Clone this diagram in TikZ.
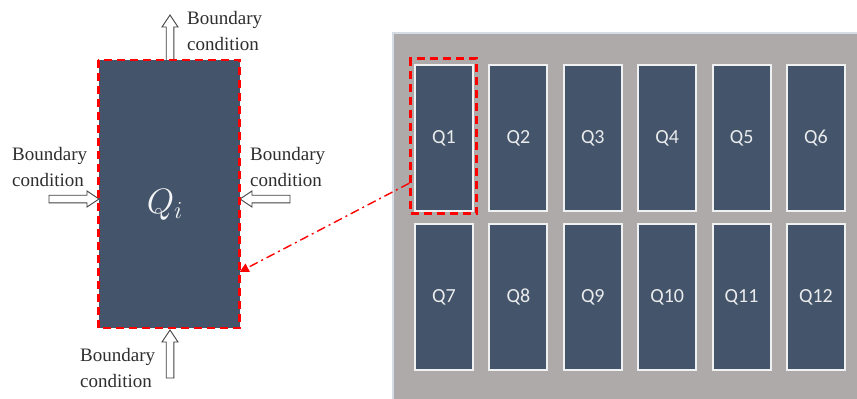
\documentclass[tikz,border=0pt]{standalone}
\usepackage{fontspec}
\setmainfont{Liberation Serif}
\newfontfamily\boxfont{Carlito}
\usetikzlibrary{arrows.meta,calc}
\definecolor{slate}{HTML}{44546A}
\definecolor{panelgrey}{HTML}{AEAAA9}
\definecolor{panelrim}{HTML}{D6DCE4}
\definecolor{labelgrey}{HTML}{2E2E2E}
\tikzset{
  cell/.style={draw=white!92!slate, line width=2pt, fill=slate,
    minimum width=58pt, minimum height=146pt, inner sep=0pt,
    text=white!88!slate, font=\boxfont\fontsize{20}{20}\selectfont},
  bclabel/.style={align=left, inner sep=0pt, text=labelgrey,
    font=\fontsize{19}{26}\selectfont, anchor=west},
  selbox/.style={draw=red, dash pattern=on 8pt off 5pt, line width=2.5pt},
  hollow/.style={draw=black!75, fill=white, line width=0.9pt, line join=miter},
  % hollow block arrow, tip at the origin, pointing along +x, #1 = length
  harrow/.pic={\path[hollow] (0,0) -- (-12,8) -- (-12,3.8) -- (-#1,3.8)
      -- (-#1,-3.8) -- (-12,-3.8) -- (-12,-8) -- cycle;},
}
\begin{document}
\begin{tikzpicture}[x=1pt, y=-1pt]
\useasboundingbox (0,0) rectangle (857,399);

% ---- right panel: grid of cells ----
\path[fill=panelgrey, draw=panelrim, line width=1.5pt] (393,33) rectangle (862,404);
\foreach \k in {1,...,6} {
  \pgfmathsetmacro{\cx}{444+74.4*(\k-1)}
  \node[cell] (q\k) at (\cx,138) {Q\k};
  \pgfmathtruncatemacro{\kk}{\k+6}
  \node[cell] (q\kk) at (\cx,297) {Q\kk};
}
\node[selbox, minimum width=66pt, minimum height=155pt, inner sep=0pt] (sel) at (443.5,136) {};

% ---- left: single cell with its boundary conditions ----
\pic[rotate=90]  at (170,15)  {harrow=46};
\pic[rotate=0]   at (99,199)  {harrow=50};
\pic[rotate=180] at (240,199) {harrow=50};
\pic[rotate=90]  at (170,330) {harrow=48};

\node[fill=slate, minimum width=141pt, minimum height=268pt, inner sep=0pt] (qi) at (169,194) {};
\draw[selbox] (qi.north west) rectangle (qi.south east);
\node[text=white!94!slate, scale=1.7, inner sep=0pt] (qlabel) at (165,205) {\fontsize{20}{20}\selectfont$Q_i$};

\node[bclabel] (bctop)   at (187,30.5) {Boundary\\condition};
\node[bclabel] (bcleft)  at (12,166.5) {Boundary\\condition};
\node[bclabel] (bcright) at (250,166.5) {Boundary\\condition};
\node[bclabel] (bcbot)   at (80,368)  {Boundary\\condition};

% ---- link from the selected cell to its enlarged view ----
\draw[red, line width=1.4pt, dash pattern=on 9pt off 4pt on 2pt off 4pt,
      -{Triangle[length=9pt,width=9pt]}]
  ($(sel.south west)!0.2!(sel.north west)$) -- ($(qi.south east)!0.21!(qi.north east)$);
\end{tikzpicture}
\end{document}
